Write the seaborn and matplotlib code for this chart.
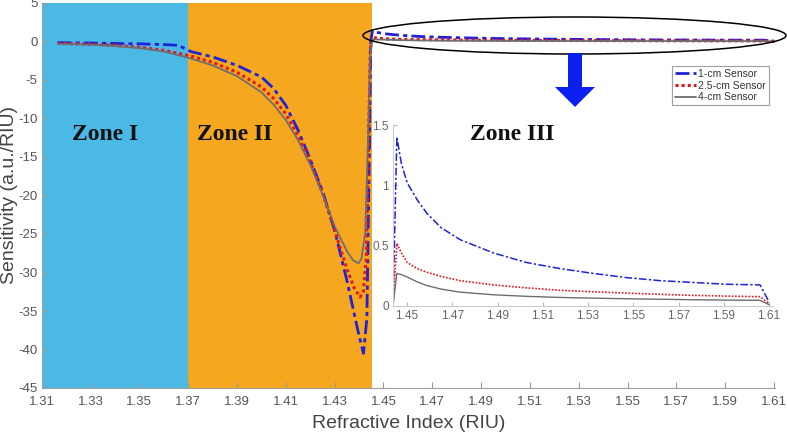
import numpy as np
import pandas as pd
import seaborn as sns
import matplotlib
matplotlib.use("Agg")
import matplotlib.pyplot as plt
from matplotlib.patches import Ellipse, Polygon

# Zone I / II part of each curve (refractive index, sensitivity)
x_blue_12 = [1.3165, 1.33, 1.34, 1.35, 1.36, 1.366, 1.371, 1.38, 1.39, 1.40, 1.405, 1.41, 1.415,
             1.42, 1.425, 1.43, 1.435, 1.4395, 1.4418, 1.4432, 1.4442, 1.4448]
y_blue_12 = [-0.15, -0.2, -0.25, -0.3, -0.4, -0.5, -1.3, -2.0, -3.1, -4.6, -6.1, -8.3, -11.5,
             -15.3, -19.4, -24.5, -31.0, -37.5, -40.5, -36.0, -15.0, 0.0]

x_red_12 = [1.3165, 1.33, 1.34, 1.35, 1.36, 1.37, 1.38, 1.39, 1.40, 1.405, 1.41, 1.415, 1.42,
            1.425, 1.43, 1.435, 1.438, 1.4404, 1.4418, 1.443, 1.4438, 1.4446]
y_red_12 = [-0.25, -0.35, -0.5, -0.75, -1.15, -1.8, -2.7, -4.0, -5.9, -7.4, -9.4, -12.2, -15.6,
            -19.6, -24.5, -29.5, -32.0, -33.2, -32.5, -28.0, -15.0, -1.0]

x_gray_12 = [1.3165, 1.33, 1.34, 1.35, 1.36, 1.37, 1.38, 1.39, 1.40, 1.405, 1.41, 1.415, 1.42,
             1.425, 1.43, 1.435, 1.4375, 1.4398, 1.441, 1.4425, 1.4435, 1.4445]
y_gray_12 = [-0.3, -0.4, -0.6, -0.85, -1.3, -2.1, -3.1, -4.5, -6.6, -8.2, -10.2, -12.8, -16.0,
             -19.8, -24.0, -27.2, -28.4, -28.8, -28.2, -25.0, -15.0, -2.0]

# Zone III part (shared x)
x_zone3 = [1.4455, 1.4475, 1.4501, 1.4545, 1.4587, 1.465, 1.4734, 1.4881, 1.5029, 1.5176,
           1.5323, 1.5471, 1.5618, 1.5765, 1.5913, 1.606, 1.6101]
y_blue_3 = [1.40, 1.18, 1.02, 0.88, 0.77, 0.65, 0.55, 0.44, 0.36, 0.31, 0.27, 0.235, 0.21,
            0.195, 0.18, 0.175, 0.03]
y_red_3 = [0.52, 0.44, 0.36, 0.31, 0.28, 0.245, 0.21, 0.175, 0.15, 0.13, 0.118, 0.107, 0.097,
           0.088, 0.082, 0.077, 0.02]
y_gray_3 = [0.27, 0.26, 0.24, 0.20, 0.17, 0.14, 0.115, 0.093, 0.08, 0.071, 0.065, 0.06, 0.056,
            0.052, 0.049, 0.047, 0.01]
x_start3 = 1.4438  # inset curves start from zero here

labels = ["1-cm Sensor", "2.5-cm Sensor", "4-cm Sensor"]
colors = ["#1f22d6", "#e8141b", "#6e6e6e"]
styles = [(0, (5, 1.5, 1.5, 1.5)), (0, (1, 1)), "-"]

xticks_main = [1.31, 1.33, 1.35, 1.37, 1.39, 1.41, 1.43, 1.45, 1.47, 1.49, 1.51, 1.53, 1.55,
               1.57, 1.59, 1.61]
yticks_main = [5, 0, -5, -10, -15, -20, -25, -30, -35, -40, -45]
ticks_inset = [1.45, 1.47, 1.49, 1.51, 1.53, 1.55, 1.57, 1.59, 1.61]
yticks_inset = [0, 0.5, 1, 1.5]

sns.set_style("white")
plt.rcParams['font.family'] = ['Liberation Sans', 'DejaVu Sans']
plt.rcParams['axes.unicode_minus'] = False

W, H = 787, 438
fig = plt.figure(figsize=(7.87, 4.38), dpi=100)
ax = fig.add_axes([41.7 / W, 1 - 388 / H, (775 - 41.7) / W, 385 / H])

ax.axvspan(1.31, 1.37, color="#4bb9e6", lw=0, zorder=0)
ax.axvspan(1.37, 1.4452, color="#f5a81f", lw=0, zorder=0)

main_series = [
    (x_blue_12 + x_zone3, y_blue_12 + y_blue_3),
    (x_red_12 + x_zone3, y_red_12 + y_red_3),
    (x_gray_12 + x_zone3, y_gray_12 + y_gray_3),
]
lws = [2.0, 2.2, 1.3]
for (xs, ys), lab, c, ls, lw in zip(main_series, labels, colors, styles, lws):
    sns.lineplot(x=xs, y=ys, ax=ax, color=c, lw=lw, label=lab, sort=False)
    ax.lines[-1].set_linestyle(ls)

ax.set_xlim(1.31, 1.6104)
ax.set_ylim(-45, 5)
ax.set_xticks(xticks_main)
ax.set_xticklabels([f"{t:.2f}" for t in xticks_main])
ax.set_yticks(yticks_main)
ax.tick_params(direction="in", length=4, color="#999999", labelcolor="#555555", labelsize=9.5,
               bottom=True, left=True, pad=3)
ax.tick_params(axis="x", pad=6)
for s in ["top", "right"]:
    ax.spines[s].set_visible(False)
for s in ["left", "bottom"]:
    ax.spines[s].set_color("#a0a0a0")
    ax.spines[s].set_linewidth(0.8)
ax.set_xlabel("Refractive Index (RIU)", fontsize=14, color="#444444")
ax.set_ylabel("Sensitivity (a.u./RIU)", fontsize=14, color="#444444")
ax.xaxis.set_label_coords(0.5, -0.07)
ax.yaxis.set_label_coords(-0.033, 0.5)

handles, labs = ax.get_legend_handles_labels()
ax.get_legend().remove()
leg = fig.legend(handles, labs, loc="upper left", bbox_to_anchor=(672 / W, 1 - 66 / H),
                 fontsize=7.5, frameon=True, fancybox=False, handlelength=2.0, handletextpad=0.2,
                 labelspacing=0.15, borderpad=0.3, borderaxespad=0)
leg.get_frame().set_edgecolor("#888888")
leg.get_frame().set_linewidth(0.8)
for t in leg.get_texts():
    t.set_color("#333333")

serif = ['Liberation Serif', 'DejaVu Serif']
for txt, xz in [("Zone I", 1.3359), ("Zone II", 1.389), ("Zone III", 1.5029)]:
    ax.text(xz, -12.1, txt, ha="center", va="center", fontsize=17, fontweight="bold",
            family=serif, color="#111111")

# inset for zone III
axi = fig.add_axes([393 / W, 1 - 306 / H, 379 / W, 181 / H])
axi.patch.set_alpha(0)
inset_series = [
    ([x_start3] + x_zone3, [0] + y_blue_3),
    ([x_start3] + x_zone3, [0] + y_red_3),
    ([x_start3] + x_zone3, [0] + y_gray_3),
]
for (xs, ys), c, ls, lw in zip(inset_series, colors, styles, [1.1, 1.2, 1.0]):
    sns.lineplot(x=xs, y=ys, ax=axi, color=c, lw=lw, sort=False)
    axi.lines[-1].set_linestyle(ls)
axi.set_xlim(1.4438, 1.6113)
axi.set_ylim(0, 1.5)
axi.set_xticks(ticks_inset)
axi.set_xticklabels([f"{t:.2f}" for t in ticks_inset])
axi.set_yticks(yticks_inset)
axi.set_yticklabels(["0", "0.5", "1", "1.5"])
axi.tick_params(direction="in", length=3, color="#bbbbbb", labelcolor="#666666", labelsize=8.5,
                bottom=True, left=True, pad=3)
for s in ["top", "right"]:
    axi.spines[s].set_visible(False)
for s in ["left", "bottom"]:
    axi.spines[s].set_color("#cccccc")
    axi.spines[s].set_linewidth(0.8)

# ellipse and arrow
fig.patches.append(Ellipse((574.5 / W, 1 - 35.5 / H), 423 / W, 37 / H, transform=fig.transFigure,
                           fill=False, edgecolor="black", lw=1.1))
arrow_px = [(568, 53), (582, 53), (582, 87), (595, 87), (575, 107), (555, 87), (568, 87)]
fig.patches.append(Polygon([(px / W, 1 - py / H) for px, py in arrow_px], closed=True,
                           transform=fig.transFigure, facecolor="#0a1ff0", edgecolor="none"))

fig.savefig("out.png", dpi=100)
